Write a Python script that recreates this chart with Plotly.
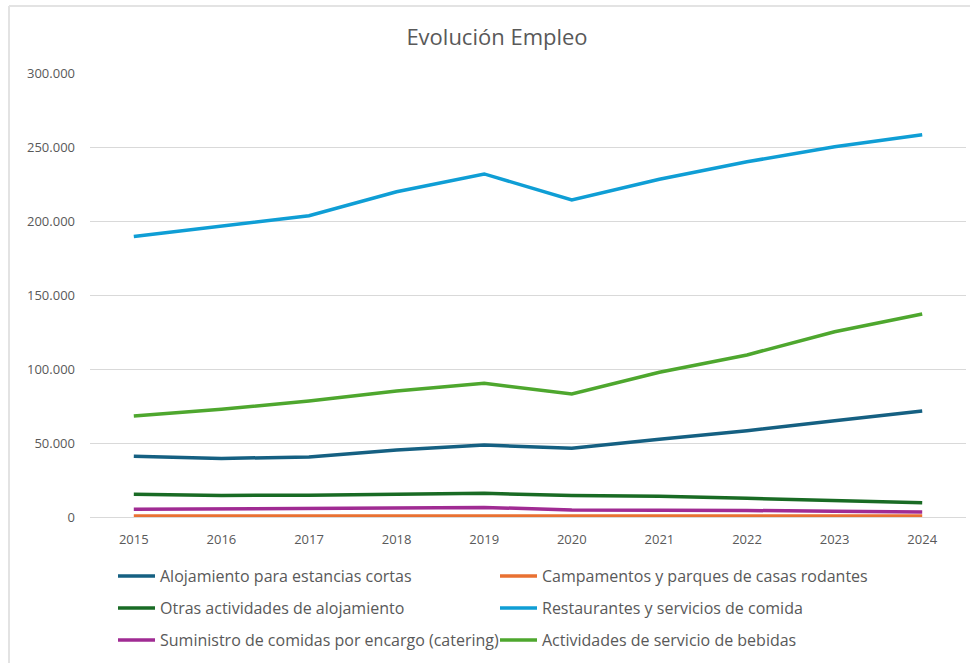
import plotly.graph_objects as go

years = ["2015", "2016", "2017", "2018", "2019", "2020", "2021", "2022", "2023", "2024"]

alojamiento_cortas = [41000, 39600, 40500, 45300, 48600, 46400, 52500, 58300, 65100, 71600]
campamentos = [600, 600, 600, 650, 650, 550, 600, 600, 600, 600]
otras_alojamiento = [15300, 14600, 14700, 15200, 16000, 14600, 14000, 12600, 11300, 9700]
restaurantes = [189500, 196600, 203600, 219800, 231800, 214200, 228200, 240000, 250200, 258300]
catering = [5200, 5600, 6000, 6400, 6500, 4700, 4800, 4400, 3900, 3400]
bebidas = [68200, 72800, 78400, 85100, 90300, 83100, 97800, 109500, 125200, 137200]

series = [
    ("Alojamiento para estancias cortas", alojamiento_cortas, "#156082", "legend"),
    ("Campamentos y parques de casas rodantes", campamentos, "#E97132", "legend"),
    ("Otras actividades de alojamiento", otras_alojamiento, "#196B24", "legend2"),
    ("Restaurantes y servicios de comida", restaurantes, "#0F9ED5", "legend2"),
    ("Suministro de comidas por encargo (catering)", catering, "#A02B93", "legend3"),
    ("Actividades de servicio de bebidas", bebidas, "#4EA72E", "legend3"),
]

title_text = "Evolución Empleo"
y_ticks = [0, 50000, 100000, 150000, 200000, 250000, 300000]

fig = go.Figure()
for name, vals, color, lg in series:
    fig.add_trace(go.Scatter(
        x=years, y=vals, name=name, mode="lines",
        line=dict(color=color, width=3.5), legend=lg,
    ))

FONT = "Open Sans"
GRAY = "#595959"

L, R, T, B = 90, 4, 73, 146
W, H = 970, 663
pw, ph = W - L - R, H - T - B


def px_x(p):
    return (p - L) / pw


def px_y(p):
    return (H - B - p) / ph


def legend_row(ypix):
    return dict(
        orientation="h", x=px_x(113), xanchor="left",
        y=px_y(ypix), yanchor="middle",
        entrywidth=330, entrywidthmode="pixels",
        font=dict(family=FONT, size=16, color=GRAY),
        itemwidth=37, bgcolor="rgba(0,0,0,0)",
    )


fig.update_layout(
    width=W, height=H,
    margin=dict(l=L, r=R, t=T, b=B, autoexpand=False),
    paper_bgcolor="white", plot_bgcolor="white",
    separators=",.",
    font=dict(family=FONT, color=GRAY, size=13),
    title=dict(text=title_text, x=497 / W, xanchor="center", xref="container",
               y=1 - 37 / H, yanchor="middle", yref="container",
               font=dict(family=FONT, size=22, color=GRAY)),
    xaxis=dict(
        type="category", range=[-0.5, 9.5], showgrid=False, zeroline=False,
        showline=False, ticks="", tickfont=dict(size=13, color=GRAY),
        ticklabelstandoff=13,
    ),
    yaxis=dict(
        range=[0, 300000], tickvals=y_ticks, tickformat=",.0f",
        showgrid=True, gridcolor="#D9D9D9", gridwidth=1,
        zeroline=True, zerolinecolor="#D9D9D9", zerolinewidth=1,
        showline=False, ticks="", tickfont=dict(size=13, color=GRAY),
        ticklabelstandoff=14,
    ),
    legend=legend_row(576),
    legend2=legend_row(608),
    legend3=legend_row(640),
    showlegend=True,
)

# chart border (top and left lines visible in the reference)
fig.add_shape(type="line", xref="paper", yref="paper",
              x0=px_x(9), x1=px_x(975), y0=px_y(6), y1=px_y(6),
              line=dict(color="#E3E3E3", width=2))
fig.add_shape(type="line", xref="paper", yref="paper",
              x0=px_x(9), x1=px_x(9), y0=px_y(6), y1=px_y(670),
              line=dict(color="#E3E3E3", width=2))

fig.write_html("out.html", config={"displayModeBar": False},
               post_script="document.body.style.margin='0';document.body.style.overflow='hidden';")
